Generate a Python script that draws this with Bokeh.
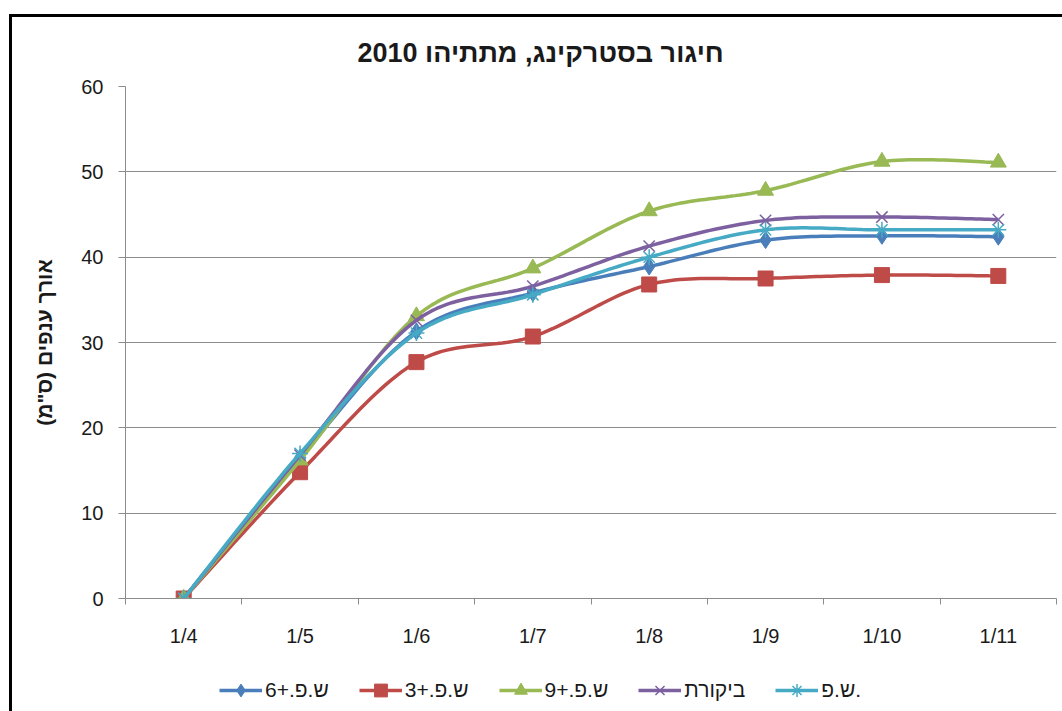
import numpy as np
from bokeh.plotting import figure
from bokeh.layouts import column
from bokeh.models import (FixedTicker, Legend, LegendItem, Title, ColumnDataSource)
from bokeh.embed import file_html
from bokeh.resources import INLINE

# ---- data ----
categories = ["1/4", "1/5", "1/6", "1/7", "1/8", "1/9", "1/10", "1/11"]
series_names = ["ש.פ.+6", "ש.פ.+3", "ש.פ.+9", "ביקורת", "ש.פ."]
sp6 = [0, 16.5, 31.3, 35.8, 38.9, 42.0, 42.5, 42.4]
sp3 = [0, 14.8, 27.7, 30.7, 36.8, 37.5, 37.9, 37.8]
sp9 = [0, 16.2, 33.1, 38.7, 45.4, 47.8, 51.2, 51.1]
control = [0, 16.8, 32.6, 36.6, 41.3, 44.3, 44.7, 44.4]
sp = [0, 17.0, 31.1, 35.6, 40.0, 43.2, 43.2, 43.2]
y_ticks = [0, 10, 20, 30, 40, 50, 60]
title_text = "חיגור בסטרקינג, מתתיהו 2010"
y_label = 'אורך ענפים (ס"מ)'

series_values = [sp6, sp3, sp9, control, sp]
colors = ["#4a7ebb", "#be4b48", "#98b954", "#7d60a0", "#46aac5"]
markers = ["diamond", "square", "triangle", "x", "asterisk"]
msizes = [17, 15, 16, 16, 16]

FONT = "Liberation Sans"
TXT = "#1a1a1a"
GRID = "#8c8c8c"


def smooth(xs, ys, n=24):
    pts = np.column_stack([xs, ys]).astype(float)
    ox, oy = [], []
    m = len(pts)
    for i in range(m - 1):
        p0 = pts[i - 1] if i > 0 else pts[i]
        p1 = pts[i]
        p2 = pts[i + 1]
        p3 = pts[i + 2] if i + 2 < m else pts[i + 1]
        c1 = p1 + (p2 - p0) / 6.0
        c2 = p2 - (p3 - p1) / 6.0
        ts = np.linspace(0, 1, n)
        if i > 0:
            ts = ts[1:]
        for t in ts:
            b = ((1 - t) ** 3) * p1 + 3 * ((1 - t) ** 2) * t * c1 + 3 * (1 - t) * t * t * c2 + t ** 3 * p2
            ox.append(b[0])
            oy.append(b[1])
    return ox, oy


def add_series(fig, xs, vals, col, mk, ms):
    sx, sy = smooth(xs, vals)
    lr = fig.line(sx, sy, line_color=col, line_width=3.5)
    src = ColumnDataSource(dict(x=list(xs), y=list(vals)))
    if mk in ("x", "asterisk"):
        sr = fig.scatter("x", "y", source=src, marker=mk, size=ms, line_color=col,
                         line_width=1.5, fill_color=col)
    else:
        sr = fig.scatter("x", "y", source=src, marker=mk, size=ms, fill_color=col, line_color=col)
    return lr, sr


xpos = [i + 0.5 for i in range(len(categories))]

p = figure(width=1050, height=651, x_range=(0, len(categories)), y_range=(0, 60),
           output_backend="svg", toolbar_location=None,
           min_border_left=113, min_border_right=6, min_border_top=69, min_border_bottom=70)
p.outline_line_color = None
p.background_fill_color = "white"
p.border_fill_color = "white"

t = Title(text=title_text, align="left", text_font=FONT, text_font_size="27px",
          text_font_style="bold", text_color=TXT, offset=232, standoff=37)
p.add_layout(t, "above")

# axes
p.xaxis.ticker = FixedTicker(ticks=xpos, minor_ticks=list(range(len(categories) + 1)))
p.xaxis.major_label_overrides = {x: c for x, c in zip(xpos, categories)}
p.xaxis.major_tick_line_color = None
p.xaxis.major_tick_out = 0
p.xaxis.major_tick_in = 0
p.xaxis.minor_tick_out = 6
p.xaxis.minor_tick_in = 0
p.xaxis.minor_tick_line_color = GRID
p.xaxis.axis_line_color = GRID
p.xaxis.major_label_standoff = 20
p.xaxis.major_label_text_font = FONT
p.xaxis.major_label_text_font_size = "20px"
p.xaxis.major_label_text_color = TXT

p.yaxis.ticker = FixedTicker(ticks=y_ticks)
p.yaxis.major_tick_out = 7
p.yaxis.major_tick_in = 0
p.yaxis.minor_tick_line_color = None
p.yaxis.major_tick_line_color = GRID
p.yaxis.axis_line_color = GRID
p.yaxis.major_label_standoff = 15
p.yaxis.major_label_text_font = FONT
p.yaxis.major_label_text_font_size = "20px"
p.yaxis.major_label_text_color = TXT
p.yaxis.axis_label = y_label
p.yaxis.axis_label_text_font = FONT
p.yaxis.axis_label_text_font_size = "21px"
p.yaxis.axis_label_text_font_style = "bold"
p.yaxis.axis_label_text_color = TXT
p.yaxis.axis_label_standoff = 22

p.xgrid.grid_line_color = None
p.ygrid.grid_line_color = GRID
p.ygrid.grid_line_width = 1

for vals, col, mk, ms in zip(series_values, colors, markers, msizes):
    add_series(p, xpos, vals, col, mk, ms)

# legend strip (separate canvas so it is not clipped by the plot frame);
# its series are drawn outside the strip's visible range, only the legend shows
pl = figure(width=1050, height=43, x_range=(1000, 1001), y_range=(1000, 1001),
            output_backend="svg", toolbar_location=None,
            min_border=0, x_axis_type=None, y_axis_type=None)
pl.outline_line_color = None
pl.xgrid.visible = False
pl.ygrid.visible = False
pl.background_fill_color = "white"
pl.border_fill_color = "white"

items = []
for name, vals, col, mk, ms in zip(series_names, series_values, colors, markers, msizes):
    lr, sr = add_series(pl, xpos, vals, col, mk, ms)
    items.append(LegendItem(label=name, renderers=[lr, sr]))

legend = Legend(items=items, orientation="horizontal", location=(94, 5),
                label_text_font=FONT, label_text_font_size="21px", label_text_color=TXT,
                glyph_width=43, glyph_height=32, label_standoff=3, spacing=30,
                padding=0, margin=0, border_line_color=None, background_fill_alpha=0)
pl.add_layout(legend, "center")

layout = column(p, pl, spacing=0,
                styles={"margin-left": "9px", "margin-top": "14px",
                        "border-left": "3px solid black", "border-top": "3px solid black"})

open("out.html", "w").write(file_html(layout, INLINE))
